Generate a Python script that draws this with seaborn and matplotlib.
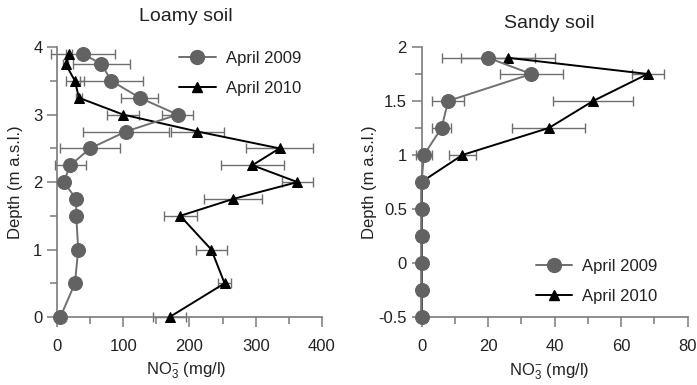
import numpy as np
import pandas as pd
import matplotlib
matplotlib.use("Agg")
import matplotlib.pyplot as plt
import seaborn as sns
from matplotlib.ticker import MultipleLocator
from matplotlib.lines import Line2D

sns.set_theme(style="white")
plt.rcParams['font.family'] = ['Liberation Sans', 'DejaVu Sans']
plt.rcParams['mathtext.fontset'] = 'custom'
plt.rcParams['mathtext.rm'] = 'Liberation Sans'
plt.rcParams['mathtext.it'] = 'Liberation Sans'

# ---- Loamy soil data ----
loam_depth = [3.9, 3.75, 3.5, 3.25, 3.0, 2.75, 2.5, 2.25, 2.0, 1.75, 1.5, 1.0, 0.5, 0.0]
loam_2009 = [39, 67, 82, 125, 182, 104, 50, 20, 10, 29, 29, 32, 27, 5]
loam_2009_err = [48, 43, 48, 28, 24, 65, 45, 23, 4, 6, 5, 5, 4, 3]
loam_2010 = [18, 13, 27, 33, 100, 212, 336, 295, 363, 266, 186, 233, 253, 170]
loam_2010_err = [5, 4, 14, 4, 24, 40, 50, 48, 23, 44, 25, 23, 10, 25]

# ---- Sandy soil data ----
sand_depth = [1.9, 1.75, 1.5, 1.25, 1.0, 0.75, 0.5, 0.25, 0.0, -0.25, -0.5]
sand_2009 = [20, 33, 8, 6, 0.7, 0, 0, 0, 0, 0, 0]
sand_2009_err = [14, 9.5, 4.8, 2.8, 2.3, 0, 0, 0, 0, 0, 0]
sand_2010 = [26, 68, 51.6, 38.3, 12.3, 0, 0, 0, 0, 0, 0]
sand_2010_err = [14, 4.8, 12, 11, 4, 0, 0, 0, 0, 0, 0]

labels = ["April 2009", "April 2010"]
c09 = "#626262"
c10 = "#000000"
err_col = "#6e6e6e"
spine_col = "#7a7a7a"
text_col = "#222222"

fig = plt.figure(figsize=(6.97, 3.85), dpi=100)
fig.patch.set_facecolor("white")
axL = fig.add_axes([0.0676, 0.159, 0.399, 0.736])
axR = fig.add_axes([0.581, 0.149, 0.415, 0.757])


def draw(ax, depth, v09, e09, v10, e10):
    ax.errorbar(v09, depth, xerr=e09, fmt='none', ecolor=err_col, elinewidth=1,
                capsize=3.5, capthick=1, zorder=2)
    ax.errorbar(v10, depth, xerr=e10, fmt='none', ecolor=err_col, elinewidth=1,
                capsize=3.5, capthick=1, zorder=2)
    df09 = pd.DataFrame({"x": v09, "y": depth})
    df10 = pd.DataFrame({"x": v10, "y": depth})
    sns.lineplot(data=df09, x="x", y="y", sort=False, ax=ax, color="#707070",
                 linewidth=1.4, marker="o", markersize=10, markerfacecolor=c09,
                 markeredgecolor=c09, zorder=4, estimator=None)
    sns.lineplot(data=df10, x="x", y="y", sort=False, ax=ax, color=c10,
                 linewidth=1.4, marker="^", markersize=7, markerfacecolor=c10,
                 markeredgecolor=c10, zorder=3, estimator=None)


def style(ax, xlim, ylim, xb, yb, xmaj, ymaj, ybottom, ylabelpad):
    ax.set_xlim(*xlim)
    ax.set_ylim(*ylim)
    for s in ["top", "right"]:
        ax.spines[s].set_visible(False)
    ax.spines["left"].set_position(("data", 0))
    ax.spines["bottom"].set_position(("data", ybottom))
    ax.spines["left"].set_bounds(*yb)
    ax.spines["bottom"].set_bounds(*xb)
    for s in ["left", "bottom"]:
        ax.spines[s].set_color(spine_col)
        ax.spines[s].set_linewidth(1.2)
    ax.xaxis.set_major_locator(MultipleLocator(xmaj))
    ax.xaxis.set_minor_locator(MultipleLocator(xmaj / 2))
    ax.yaxis.set_major_locator(MultipleLocator(ymaj))
    ax.yaxis.set_minor_locator(MultipleLocator(ymaj / 2))
    ax.tick_params(which="both", direction="out", color=spine_col, width=1.1,
                   bottom=True, left=True, labelsize=12, labelcolor=text_col)
    ax.tick_params(which="major", length=7)
    ax.tick_params(which="minor", length=5)
    ax.tick_params(axis="x", pad=9)
    ax.set_xlabel(r"NO$_3^{-}$ (mg/l)", fontsize=12, color=text_col)
    ax.set_ylabel("Depth (m a.s.l.)", fontsize=12, color=text_col, labelpad=ylabelpad)
    ax.set_facecolor("white")
    ax.grid(False)


draw(axL, loam_depth, loam_2009, loam_2009_err, loam_2010, loam_2010_err)
draw(axR, sand_depth, sand_2009, sand_2009_err, sand_2010, sand_2010_err)

style(axL, (-15, 405), (-0.1, 4.1), (0, 400), (0, 4), 100, 1, 0, 7)
style(axR, (-5, 82), (-0.6, 2.1), (0, 80), (-0.5, 2), 20, 0.5, -0.5, 1)

axL.set_xticks([0, 100, 200, 300, 400])
axL.set_yticks([0, 1, 2, 3, 4])
axR.set_xticks([0, 20, 40, 60, 80])
axR.set_yticks([-0.5, 0, 0.5, 1, 1.5, 2])
axR.set_yticklabels(["-0.5", "0", "0.5", "1", "1.5", "2"])

axL.xaxis.set_label_coords(0.5, -0.13)
axR.xaxis.set_label_coords(0.5, -0.115)

axL.set_title("Loamy soil", fontsize=14, color=text_col, pad=14)
axR.set_title("Sandy soil", fontsize=14, color=text_col, pad=6)

handles = [
    Line2D([], [], color="#707070", lw=1.4, marker="o", markersize=10,
           markerfacecolor=c09, markeredgecolor=c09),
    Line2D([], [], color=c10, lw=1.4, marker="^", markersize=7,
           markerfacecolor=c10, markeredgecolor=c10),
]
legL = axL.legend(handles, labels, loc="upper left", bbox_to_anchor=(0.42, 1.015),
                  frameon=False, fontsize=12, handlelength=2.2, handletextpad=0.6,
                  labelspacing=0.9)
legR = axR.legend(handles, labels, loc="lower left", bbox_to_anchor=(0.40, 0.03),
                  frameon=False, fontsize=12, handlelength=2.2, handletextpad=0.6,
                  labelspacing=0.9)
for leg in (legL, legR):
    for t in leg.get_texts():
        t.set_color(text_col)

fig.savefig("out.png", dpi=100, facecolor="white")
